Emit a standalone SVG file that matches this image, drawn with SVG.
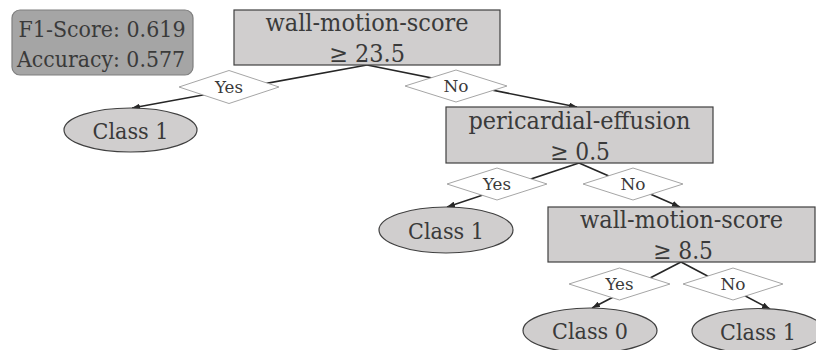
<svg xmlns="http://www.w3.org/2000/svg" width="816" height="350" viewBox="0 0 816 350">
<style>
  text { font-family: "DejaVu Serif", "Liberation Serif", serif; fill: #3a3a3a; text-anchor: middle; }
  .box { fill: #d0cece; stroke: #404040; stroke-width: 1.2; }
  .leaf { fill: #d0cece; stroke: #404040; stroke-width: 1.2; }
  .dia { fill: #ffffff; stroke: #a6a6a6; stroke-width: 1; }
  .edge { stroke: #262626; stroke-width: 1.6; fill: none; marker-end: url(#arr); }
  .n { font-size: 24px; }
  .c { font-size: 23px; }
  .l { font-size: 17px; }
  .m { font-size: 22px; }
</style>
<defs>
  <marker id="arr" markerUnits="userSpaceOnUse" markerWidth="8" markerHeight="6" refX="8" refY="3" orient="auto">
    <path d="M0,0 L8,3 L0,6 z" fill="#262626"/>
  </marker>
</defs>
<rect width="816" height="350" fill="#ffffff"/>
<g id="connectors">
  <line class="edge" x1="367" y1="65" x2="132" y2="108"/>
  <line class="edge" x1="367" y1="65" x2="577" y2="107"/>
  <line class="edge" x1="579" y1="163" x2="447" y2="207"/>
  <line class="edge" x1="579" y1="163" x2="680" y2="207"/>
  <line class="edge" x1="681" y1="262" x2="592" y2="308"/>
  <line class="edge" x1="681" y1="262" x2="770" y2="309"/>
</g>
<g id="metrics">
  <rect x="12" y="10" width="181" height="65" rx="8" ry="8" fill="#a5a5a5" stroke="#7f7f7f" stroke-width="1.2"/>
  <text class="m" x="102" y="37" textLength="167" lengthAdjust="spacingAndGlyphs">F1-Score: 0.619</text>
  <text class="m" x="101" y="67" textLength="168" lengthAdjust="spacingAndGlyphs">Accuracy: 0.577</text>
</g>
<g id="root">
  <rect class="box" x="234" y="10" width="266" height="55"/>
  <text class="n" x="367" y="31" textLength="203" lengthAdjust="spacingAndGlyphs">wall-motion-score</text>
  <text class="n" x="367" y="62" textLength="76" lengthAdjust="spacingAndGlyphs">≥ 23.5</text>
</g>
<g id="yes1">
  <polygon class="dia" points="179,87 229,70.5 279,87 229,103.5"/>
  <text class="l" x="229" y="93" textLength="28" lengthAdjust="spacingAndGlyphs">Yes</text>
</g>
<g id="no1">
  <polygon class="dia" points="405,86 456,70 507,86 456,102"/>
  <text class="l" x="456" y="92">No</text>
</g>
<g id="leaf1">
  <ellipse class="leaf" cx="130.5" cy="130" rx="66.5" ry="22"/>
  <text class="c" x="130.5" y="139" textLength="76" lengthAdjust="spacingAndGlyphs">Class 1</text>
</g>
<g id="pericardial">
  <rect class="box" x="446" y="107" width="267" height="56"/>
  <text class="n" x="579.5" y="129" textLength="222" lengthAdjust="spacingAndGlyphs">pericardial-effusion</text>
  <text class="n" x="580" y="160" textLength="60" lengthAdjust="spacingAndGlyphs">≥ 0.5</text>
</g>
<g id="yes2">
  <polygon class="dia" points="447,184 497,168 547,184 497,200"/>
  <text class="l" x="497" y="190" textLength="28" lengthAdjust="spacingAndGlyphs">Yes</text>
</g>
<g id="no2">
  <polygon class="dia" points="583,184 633,168 683,184 633,200"/>
  <text class="l" x="633" y="190">No</text>
</g>
<g id="leaf2">
  <ellipse class="leaf" cx="446" cy="230" rx="67" ry="23"/>
  <text class="c" x="446" y="239" textLength="76" lengthAdjust="spacingAndGlyphs">Class 1</text>
</g>
<g id="wms2">
  <rect class="box" x="548" y="207" width="267" height="55"/>
  <text class="n" x="681.5" y="228" textLength="203" lengthAdjust="spacingAndGlyphs">wall-motion-score</text>
  <text class="n" x="683" y="259" textLength="60" lengthAdjust="spacingAndGlyphs">≥ 8.5</text>
</g>
<g id="yes3">
  <polygon class="dia" points="569,284 619.5,268 670,284 619.5,300"/>
  <text class="l" x="619.5" y="290" textLength="28" lengthAdjust="spacingAndGlyphs">Yes</text>
</g>
<g id="no3">
  <polygon class="dia" points="683,284 733,268 783,284 733,300"/>
  <text class="l" x="733" y="290">No</text>
</g>
<g id="leaf3">
  <ellipse class="leaf" cx="590" cy="330.5" rx="67" ry="22.5"/>
  <text class="c" x="590" y="339" textLength="76" lengthAdjust="spacingAndGlyphs">Class 0</text>
</g>
<g id="leaf4">
  <ellipse class="leaf" cx="758" cy="331" rx="66" ry="22.5"/>
  <text class="c" x="758" y="339.5" textLength="76" lengthAdjust="spacingAndGlyphs">Class 1</text>
</g>
</svg>
